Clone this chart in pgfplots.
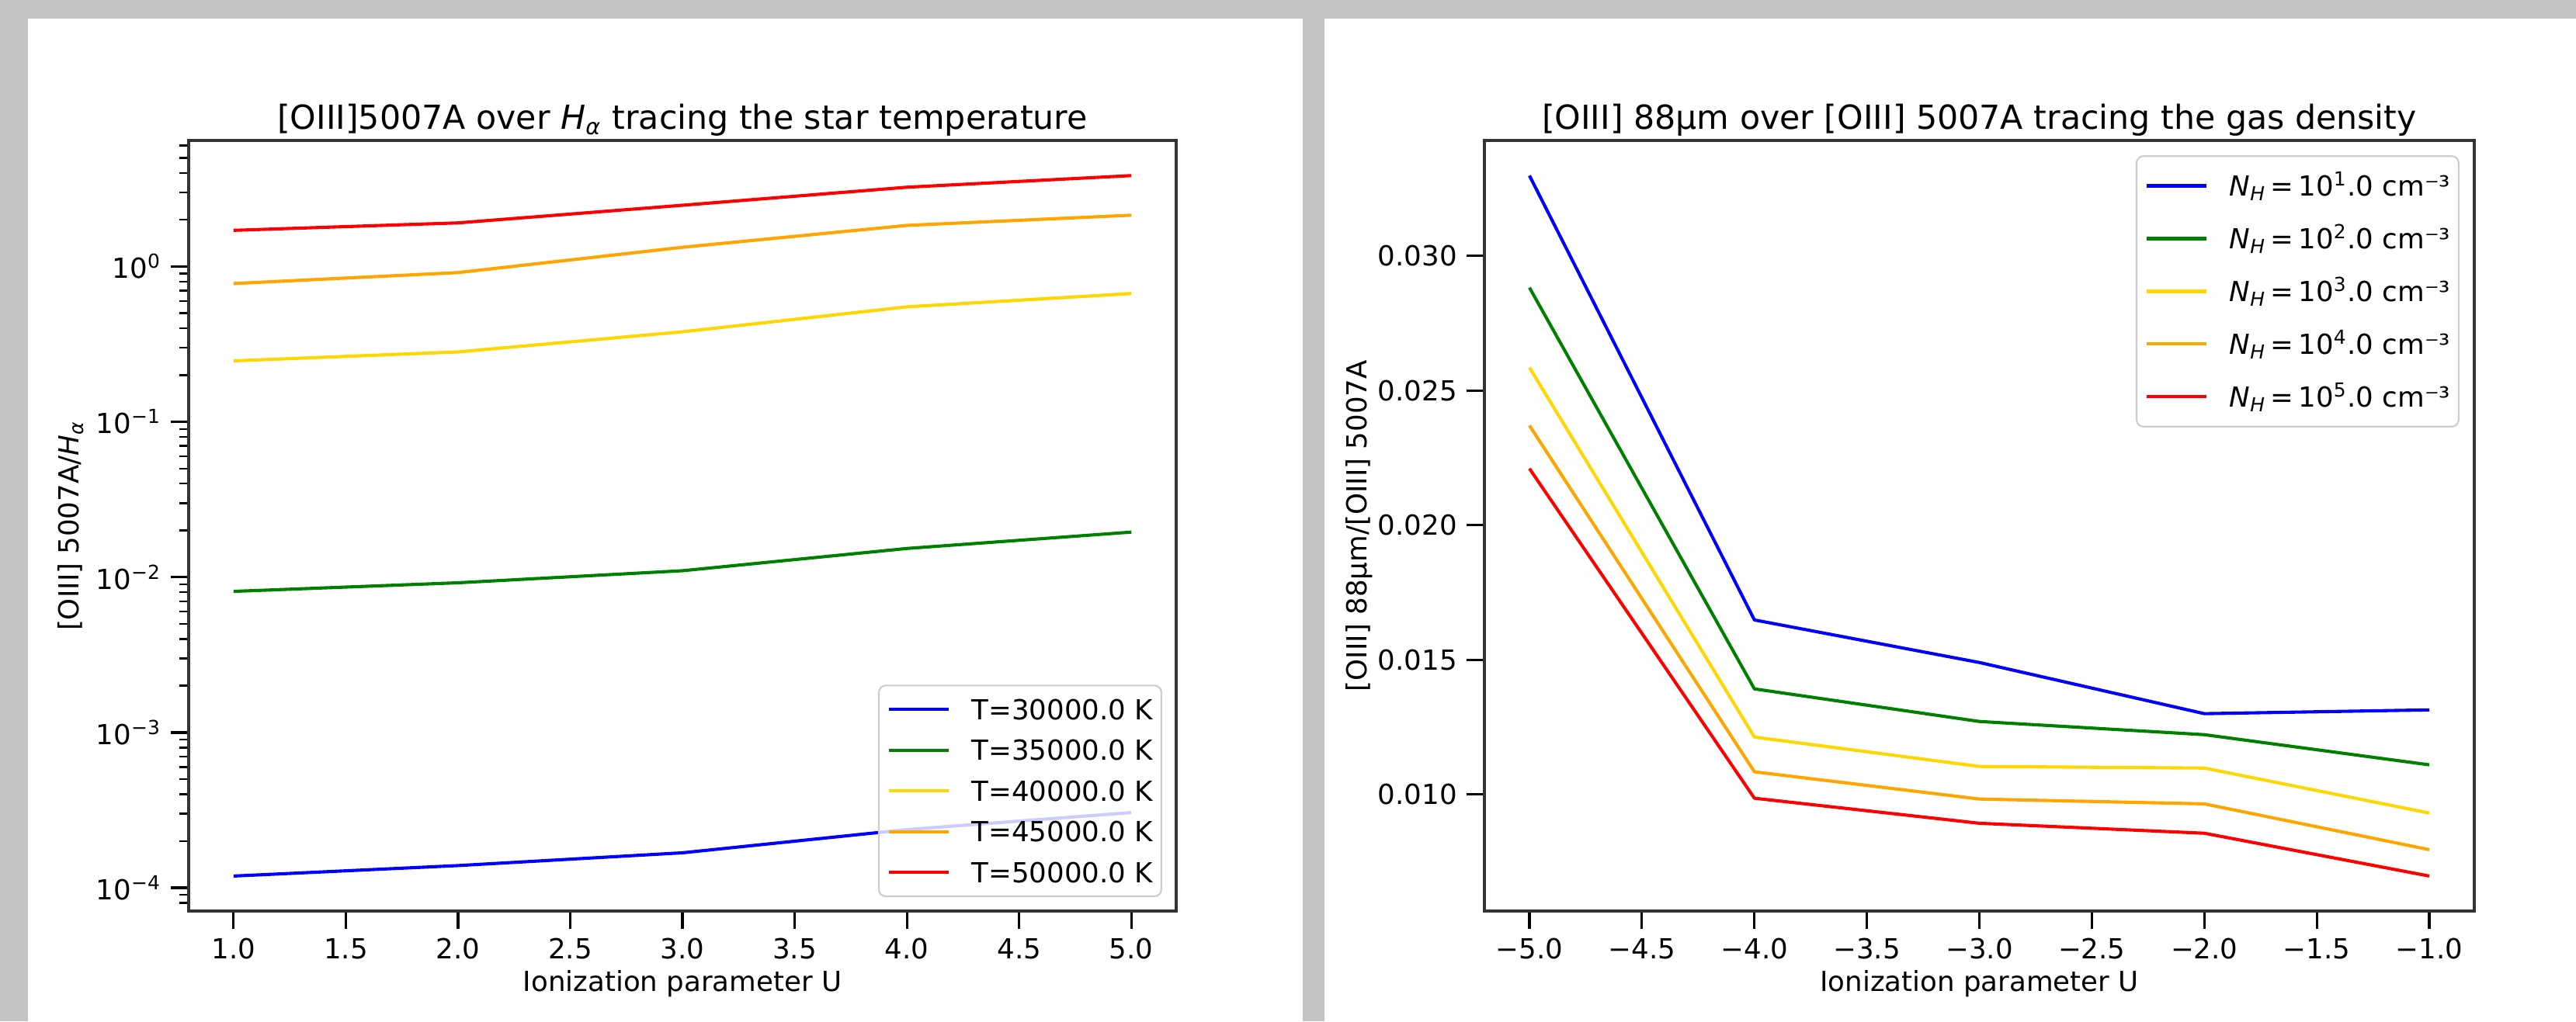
\documentclass[border=0pt]{standalone}
\usepackage{fontspec}
\setmainfont{DejaVu Sans}
\usepackage{pgfplots}
\pgfplotsset{compat=1.18}
\definecolor{bggray}{RGB}{195,197,195}
\definecolor{mplblue}{RGB}{0,0,255}
\definecolor{mplgreen}{RGB}{0,128,0}
\definecolor{mplgold}{RGB}{255,215,0}
\definecolor{mplorange}{RGB}{255,165,0}
\definecolor{mplred}{RGB}{255,0,0}

\pgfplotsset{
  panel/.style={
    scale only axis, height=278.9pt, anchor=south west,
    axis line style={line width=0.95pt, black!80},
    tick pos=left, tick align=outside,
    major tick length=6.4pt, minor tick length=3.4pt,
    every major tick/.append style={line width=0.9pt, black},
    every minor tick/.append style={line width=0.7pt, black},
    tick label style={font=\fontsize{10}{12}\selectfont},
    label style={font=\fontsize{10}{12}\selectfont},
    title style={font=\fontsize{12}{14.4}\selectfont, at={(0.5,1)}, anchor=base, yshift=-2pt},
    x label style={at={(axis description cs:0.5,-0.1037)}, anchor=base},
    legend cell align=left,
    legend style={draw=black!20, line width=0.6pt, fill=white, fill opacity=0.8,
      text opacity=1, draw opacity=1, rounded corners=2.5pt, inner xsep=3pt,
      font=\fontsize{10}{12}\selectfont,
      nodes={inner sep=0pt, text height=7.3pt, text depth=0pt}},
    legend image code/.code={\draw[line width=1.15pt,##1] (0pt,0pt) -- (21.6pt,0pt); \path (29.5pt,0pt);},
    every axis plot/.append style={line width=1.15pt, line join=round},
    scaled ticks=false,
  }
}

\begin{document}
\begin{tikzpicture}
\fill[bggray] (0pt,0pt) rectangle (932.0pt,-369.66pt);
\fill[white] (10.11pt,-6.74pt) rectangle (471.35pt,-369.66pt);
\fill[white] (479.2pt,-6.74pt) rectangle (932.0pt,-369.66pt);

\begin{axis}[panel, at={(68.26pt,-329.78pt)}, width=357.3pt,
  ymode=log, xmin=0.8, xmax=5.2, ymin=7.08e-5, ymax=6.47,
  xtick={1,1.5,2,2.5,3,3.5,4,4.5,5},
  xticklabels={1.0,1.5,2.0,2.5,3.0,3.5,4.0,4.5,5.0},
  ytick={1e-4,1e-3,1e-2,1e-1,1},
  yticklabels={10\textsuperscript{−4},10\textsuperscript{−3},10\textsuperscript{−2},10\textsuperscript{−1},10\textsuperscript{0}},
  minor ytick={8e-5,9e-5,2e-4,3e-4,4e-4,5e-4,6e-4,7e-4,8e-4,9e-4,2e-3,3e-3,4e-3,5e-3,6e-3,7e-3,8e-3,9e-3,2e-2,3e-2,4e-2,5e-2,6e-2,7e-2,8e-2,9e-2,2e-1,3e-1,4e-1,5e-1,6e-1,7e-1,8e-1,9e-1,2,3,4,5,6},
  title={{[OIII]5007A over \textit{H}\textsubscript{\textit{α}} tracing the star temperature}},
  xlabel={Ionization parameter U},
  ylabel={{[OIII] 5007A/\textit{H}\textsubscript{\textit{α}}}},
  y label style={at={(axis description cs:-0.1109,0.5)}, anchor=base},
  legend style={at={(0.9858,0.0181)}, anchor=south east, inner ysep=5pt, row sep=7.45pt},
]
\addplot[mplblue] coordinates {(1,1.19e-4) (2,1.39e-4) (3,1.68e-4) (4,2.37e-4) (5,3.05e-4)};
\addlegendentry{T=30000.0 K}
\addplot[mplgreen] coordinates {(1,0.0081) (2,0.0092) (3,0.0110) (4,0.0153) (5,0.0195)};
\addlegendentry{T=35000.0 K}
\addplot[mplgold] coordinates {(1,0.247) (2,0.282) (3,0.38) (4,0.55) (5,0.67)};
\addlegendentry{T=40000.0 K}
\addplot[mplorange] coordinates {(1,0.777) (2,0.914) (3,1.33) (4,1.84) (5,2.14)};
\addlegendentry{T=45000.0 K}
\addplot[mplred] coordinates {(1,1.71) (2,1.91) (3,2.48) (4,3.24) (5,3.85)};
\addlegendentry{T=50000.0 K}
\end{axis}

\begin{axis}[panel, at={(537.08pt,-329.78pt)}, width=358.1pt,
  xmin=-5.2, xmax=-0.8, ymin=0.005669, ymax=0.034281,
  xtick={-5,-4.5,-4,-3.5,-3,-2.5,-2,-1.5,-1},
  xticklabels={−5.0,−4.5,−4.0,−3.5,−3.0,−2.5,−2.0,−1.5,−1.0},
  ytick={0.010,0.015,0.020,0.025,0.030},
  yticklabels={0.010,0.015,0.020,0.025,0.030},
  title={{[OIII] 88μm over [OIII] 5007A tracing the gas density}},
  xlabel={Ionization parameter U},
  ylabel={{[OIII] 88μm/[OIII] 5007A}},
  y label style={at={(axis description cs:-0.1192,0.5)}, anchor=base},
  legend style={at={(0.9851,0.9809)}, anchor=north east, inner ysep=7.1pt, row sep=11.8pt},
]
\addplot[mplblue] coordinates {(-5,0.03298) (-4,0.01648) (-3,0.01490) (-2,0.01300) (-1,0.01314)};
\addlegendentry{\textit{N}\textsubscript{\textit{H}}\,=\,10\textsuperscript{1}.0 cm⁻³}
\addplot[mplgreen] coordinates {(-5,0.02882) (-4,0.01392) (-3,0.01271) (-2,0.01222) (-1,0.01110)};
\addlegendentry{\textit{N}\textsubscript{\textit{H}}\,=\,10\textsuperscript{2}.0 cm⁻³}
\addplot[mplgold] coordinates {(-5,0.02585) (-4,0.01213) (-3,0.01104) (-2,0.01098) (-1,0.00931)};
\addlegendentry{\textit{N}\textsubscript{\textit{H}}\,=\,10\textsuperscript{3}.0 cm⁻³}
\addplot[mplorange] coordinates {(-5,0.02370) (-4,0.01084) (-3,0.00983) (-2,0.00965) (-1,0.00795)};
\addlegendentry{\textit{N}\textsubscript{\textit{H}}\,=\,10\textsuperscript{4}.0 cm⁻³}
\addplot[mplred] coordinates {(-5,0.02210) (-4,0.00986) (-3,0.00893) (-2,0.00856) (-1,0.00697)};
\addlegendentry{\textit{N}\textsubscript{\textit{H}}\,=\,10\textsuperscript{5}.0 cm⁻³}
\end{axis}

\pgfresetboundingbox
\path[use as bounding box] (0pt,0pt) rectangle (932.0pt,-369.66pt);
\end{tikzpicture}
\end{document}
